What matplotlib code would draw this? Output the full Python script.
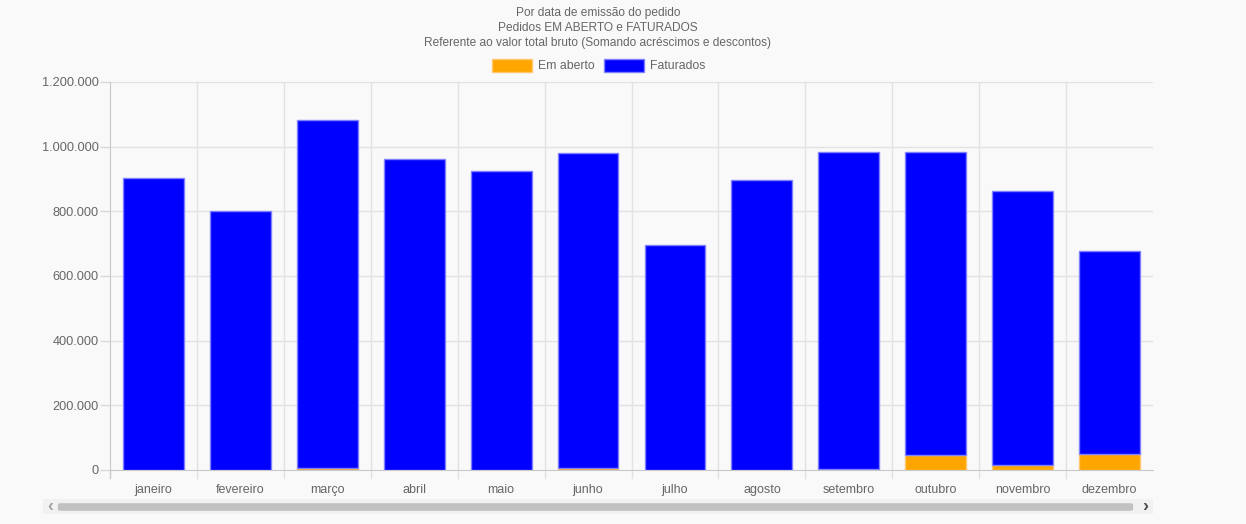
import numpy as np
import matplotlib
matplotlib.use('Agg')
from matplotlib import pyplot as plt
from matplotlib.patches import Rectangle, FancyBboxPatch
from matplotlib.ticker import FuncFormatter

# Dados
meses = ['janeiro', 'fevereiro', 'março', 'abril', 'maio', 'junho',
         'julho', 'agosto', 'setembro', 'outubro', 'novembro', 'dezembro']
em_aberto = [0, 1000, 5000, 0, 0, 5000, 0, 1000, 3000, 46000, 14000, 49000]
total = [903000, 801000, 1082000, 962000, 925000, 980000,
         696000, 897000, 983000, 983000, 863000, 677000]
faturados = [t - a for t, a in zip(total, em_aberto)]

titulo = ['Por data de emissão do pedido',
          'Pedidos EM ABERTO e FATURADOS',
          'Referente ao valor total bruto (Somando acréscimos e descontos)']

plt.rcParams['font.family'] = ['Liberation Sans', 'DejaVu Sans']
cor_texto = '#666666'
fundo = '#f9f9f9'

fig = plt.figure(figsize=(12.46, 5.24), dpi=100, facecolor=fundo)
ax = fig.add_axes([110 / 1246, 1 - 470 / 524, 1043 / 1246, 388 / 524])
ax.set_facecolor(fundo)

x = np.arange(len(meses))
ax.bar(x, em_aberto, width=0.7, color='#ffa500', edgecolor='#ffc870', linewidth=1, zorder=3)
ax.bar(x, faturados, bottom=em_aberto, width=0.7, color='#0000ff',
       edgecolor='#8080ff', linewidth=1, zorder=3)

ax.set_xlim(-0.5, len(meses) - 0.5)
ax.set_ylim(0, 1200000)
ax.set_yticks(np.arange(0, 1200001, 200000))
ax.yaxis.set_major_formatter(FuncFormatter(lambda v, p: f'{int(v):,}'.replace(',', '.')))
ax.set_xticks(x)
ax.set_xticklabels(meses)
ax.tick_params(axis='x', length=0, pad=10, labelsize=9, colors=cor_texto)
ax.tick_params(axis='y', length=7, width=1, color='#d9d9d9', pad=1, labelsize=9.2, labelcolor=cor_texto)

# grade
for yy in np.arange(200000, 1200001, 200000):
    ax.axhline(yy, color='#e2e2e2', linewidth=1, zorder=1)
for xx in np.arange(0.5, len(meses) - 1, 1):
    ax.plot([xx, xx], [-0.02, 1], transform=ax.get_xaxis_transform(), color='#e2e2e2',
            linewidth=1, clip_on=False, zorder=1)
ax.plot([-0.5, -0.5], [-0.02, 0], transform=ax.get_xaxis_transform(), color='#c8c8c8',
        linewidth=1, clip_on=False, zorder=1)
for lado in ['top', 'right']:
    ax.spines[lado].set_visible(False)
ax.spines['left'].set_color('#c8c8c8')
ax.spines['bottom'].set_color('#c8c8c8')

# título
for i, t in enumerate(titulo):
    fig.text(598 / 1246, 1 - (13 + 15 * i) / 524, t, ha='center', va='center',
             fontsize=8.6, color=cor_texto)

# legenda
fig.patches.append(Rectangle((492 / 1246, 1 - 72 / 524), 40 / 1246, 13 / 524,
                             transform=fig.transFigure, facecolor='#ffa500', edgecolor='#ffc870'))
fig.text(538 / 1246, 1 - 66 / 524, 'Em aberto', va='center', fontsize=8.8, color=cor_texto)
fig.patches.append(Rectangle((604 / 1246, 1 - 72 / 524), 40 / 1246, 13 / 524,
                             transform=fig.transFigure, facecolor='#0000ff', edgecolor='#8080ff'))
fig.text(650 / 1246, 1 - 66 / 524, 'Faturados', va='center', fontsize=8.8, color=cor_texto)

# barra de rolagem
fig.patches.append(Rectangle((43 / 1246, 1 - 514 / 524), 1110 / 1246, 15 / 524,
                             transform=fig.transFigure, facecolor='#f1f1f1', edgecolor='none'))
fig.patches.append(FancyBboxPatch((61 / 1246, 1 - 509.5 / 524), 1069 / 1246, 5 / 524,
                                  boxstyle='round,pad=0.0025', transform=fig.transFigure,
                                  facecolor='#c1c1c1', edgecolor='none'))
fig.text(50 / 1246, 1 - 506 / 524, '‹', ha='center', va='center', fontsize=13,
         color='#a3a3a3', fontweight='bold')
fig.text(1145 / 1246, 1 - 506 / 524, '›', ha='center', va='center', fontsize=13,
         color='#505050', fontweight='bold')

fig.savefig('out.png', dpi=100, facecolor=fundo)
